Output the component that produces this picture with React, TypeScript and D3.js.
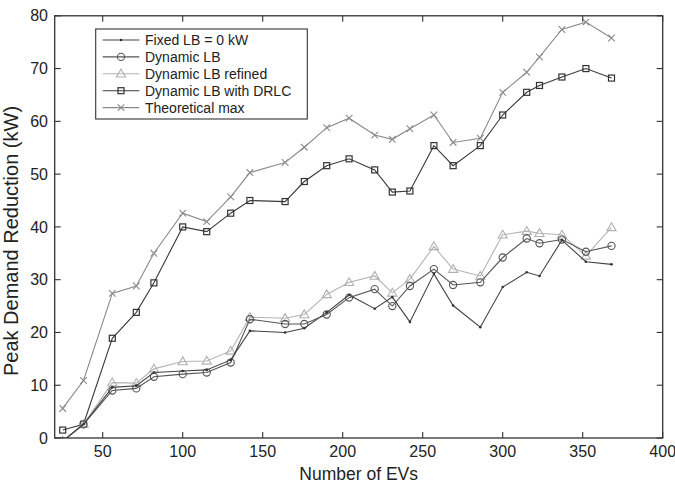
import React from "react";
import * as d3 from "d3";

const evCounts = [25, 38, 56, 71, 82, 100, 115, 130, 142, 164, 176, 190, 204, 220, 231, 242, 257, 269, 286, 300, 315, 323, 337, 352, 368];
const fixedLB = [-0.6, 2.6, 9.6, 9.9, 12.4, 12.7, 12.9, 14.8, 20.3, 20.0, 20.8, 23.8, 27.1, 24.5, 26.7, 22.0, 31.1, 25.1, 21.0, 28.6, 31.4, 30.7, 37.5, 33.4, 32.9];
const dynamicLB = [-0.6, 2.6, 9.0, 9.4, 11.6, 12.1, 12.4, 14.3, 22.5, 21.6, 21.6, 23.4, 26.6, 28.2, 25.0, 28.8, 32.0, 29.0, 29.5, 34.2, 37.8, 36.9, 37.6, 35.3, 36.4];
const dynamicRefined = [-0.6, 2.6, 10.5, 10.4, 13.1, 14.5, 14.6, 16.5, 22.9, 22.7, 23.4, 27.2, 29.5, 30.7, 27.5, 30.1, 36.3, 32.0, 30.7, 38.5, 39.2, 38.8, 38.5, 34.5, 39.9];
const dynamicDRLC = [1.5, 2.6, 18.9, 23.8, 29.4, 40.0, 39.1, 42.6, 45.0, 44.8, 48.6, 51.6, 52.9, 50.8, 46.6, 46.8, 55.4, 51.6, 55.4, 61.2, 65.5, 66.8, 68.4, 70.0, 68.2];
const theoreticalMax = [5.6, 10.9, 27.4, 28.8, 35.0, 42.6, 41.0, 45.7, 50.3, 52.2, 55.1, 58.8, 60.6, 57.4, 56.6, 58.6, 61.2, 56.0, 56.8, 65.5, 69.3, 72.2, 77.4, 78.8, 75.8];

const xTicks = [50, 100, 150, 200, 250, 300, 350, 400];
const yTicks = [0, 10, 20, 30, 40, 50, 60, 70, 80];
const seriesNames = ["Fixed LB = 0 kW", "Dynamic LB", "Dynamic LB refined", "Dynamic LB with DRLC", "Theoretical max"];

const W = 675, H = 485;
const L = 54.7, R = 662.7, T = 15.8, B = 438;
const FONT = "'Liberation Sans', Arial, Helvetica, sans-serif";

type Marker = "dot" | "circle" | "triangle" | "square" | "x";

function MarkerShape({ type, cx, cy, color }: { type: Marker; cx: number; cy: number; color: string }) {
  if (type === "dot") return <circle cx={cx} cy={cy} r={1.3} fill={color} />;
  if (type === "circle") return <circle cx={cx} cy={cy} r={3.6} fill="none" stroke={color} strokeWidth={1.1} />;
  if (type === "square") return <rect x={cx - 3} y={cy - 3} width={6} height={6} fill="none" stroke={color} strokeWidth={1.2} />;
  if (type === "triangle") {
    const s = 4.6;
    return <path d={`M${cx},${cy - s}L${cx + s},${cy + s * 0.7}L${cx - s},${cy + s * 0.7}Z`} fill="none" stroke={color} strokeWidth={1.1} />;
  }
  const s = 3.3;
  return <path d={`M${cx - s},${cy - s}L${cx + s},${cy + s}M${cx - s},${cy + s}L${cx + s},${cy - s}`} stroke={color} strokeWidth={1.1} />;
}

export default function App() {
  const x = d3.scaleLinear().domain([20, 400]).range([L, R]);
  const y = d3.scaleLinear().domain([0, 80]).range([B, T]);

  const series: { name: string; vals: number[]; color: string; mcolor: string; marker: Marker }[] = [
    { name: seriesNames[4], vals: theoreticalMax, color: "#8a8a8a", mcolor: "#8a8a8a", marker: "x" },
    { name: seriesNames[3], vals: dynamicDRLC, color: "#3a3a3a", mcolor: "#333", marker: "square" },
    { name: seriesNames[2], vals: dynamicRefined, color: "#b4b4b4", mcolor: "#b0b0b0", marker: "triangle" },
    { name: seriesNames[1], vals: dynamicLB, color: "#555", mcolor: "#555", marker: "circle" },
    { name: seriesNames[0], vals: fixedLB, color: "#444", mcolor: "#333", marker: "dot" },
  ];

  const line = d3.line<[number, number]>().x((d) => x(d[0])).y((d) => y(d[1]));
  const legendOrder = [4, 3, 2, 1, 0];

  return (
    <svg width={W} height={H} style={{ position: "absolute", left: 0, top: 0, background: "#fff" }} fontFamily={FONT}>
      <defs>
        <clipPath id="plotclip">
          <rect x={L} y={T} width={R - L} height={B - T} />
        </clipPath>
      </defs>
      <rect x={0} y={0} width={W} height={H} fill="#fff" />
      <g clipPath="url(#plotclip)">
        {series.map((s) => {
          const pts: [number, number][] = evCounts.map((e, i) => [e, s.vals[i]]);
          return (
            <g key={s.name}>
              <path d={line(pts) || ""} fill="none" stroke={s.color} strokeWidth={1.1} />
              {pts.map((p, i) => (
                <MarkerShape key={i} type={s.marker} cx={x(p[0])} cy={y(p[1])} color={s.mcolor} />
              ))}
            </g>
          );
        })}
      </g>
      {/* axes box */}
      <rect x={L} y={T} width={R - L} height={B - T} fill="none" stroke="#333" strokeWidth={1.3} />
      {xTicks.map((t) => (
        <g key={"x" + t}>
          <line x1={x(t)} x2={x(t)} y1={B} y2={B - 6} stroke="#333" strokeWidth={1.1} />
          <line x1={x(t)} x2={x(t)} y1={T} y2={T + 6} stroke="#333" strokeWidth={1.1} />
          <text x={x(t)} y={457} textAnchor="middle" fontSize={16} fill="#222">{t}</text>
        </g>
      ))}
      {yTicks.map((t) => (
        <g key={"y" + t}>
          <line x1={L} x2={L + 6} y1={y(t)} y2={y(t)} stroke="#333" strokeWidth={1.1} />
          <line x1={R} x2={R - 6} y1={y(t)} y2={y(t)} stroke="#333" strokeWidth={1.1} />
          <text x={48} y={y(t)} dy="0.35em" textAnchor="end" fontSize={16} fill="#222">{t}</text>
        </g>
      ))}
      <text x={(L + R) / 2} y={480} textAnchor="middle" fontSize={17.5} fill="#222">Number of EVs</text>
      <text transform={`translate(18,241) rotate(-90)`} textAnchor="middle" fontSize={20} fill="#222">Peak Demand Reduction (kW)</text>

      {/* legend */}
      <rect x={95.7} y={29} width={211.6} height={90} fill="#fff" stroke="#333" strokeWidth={1.1} />
      {legendOrder.map((si, k) => {
        const s = series[si];
        const ly = 40 + k * 16.9;
        return (
          <g key={"lg" + k}>
            <line x1={102.7} x2={139.3} y1={ly} y2={ly} stroke={s.color} strokeWidth={1.1} />
            <MarkerShape type={s.marker} cx={121} cy={ly} color={s.mcolor} />
            <text x={145} y={ly} dy="0.36em" fontSize={14} fill="#222">{s.name}</text>
          </g>
        );
      })}
    </svg>
  );
}
